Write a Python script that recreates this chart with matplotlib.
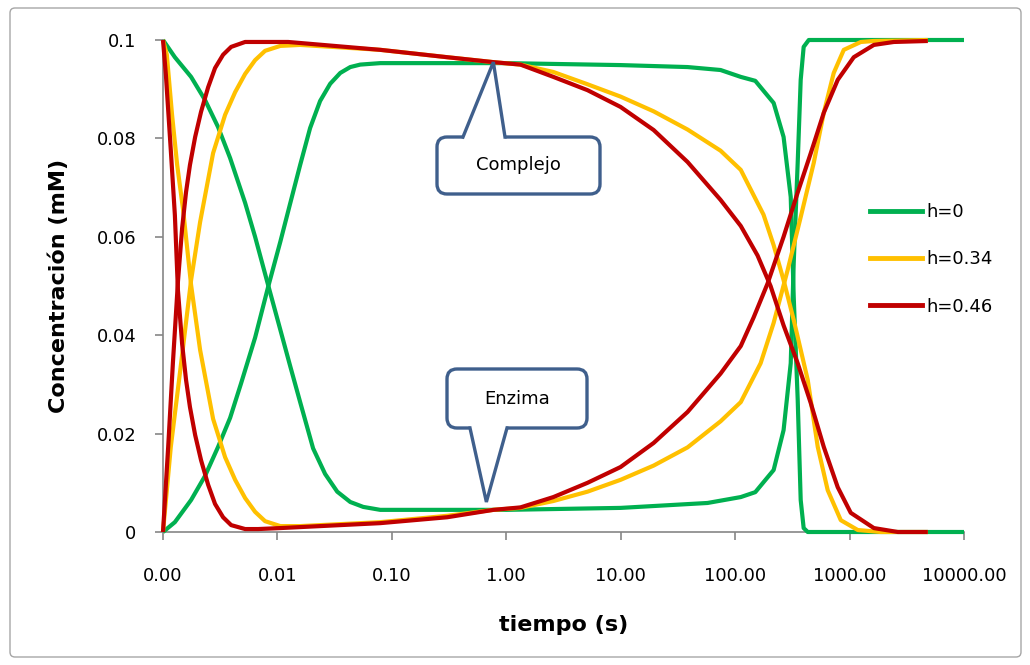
import matplotlib
matplotlib.use("Agg")
import matplotlib.pyplot as plt
from matplotlib.patches import FancyBboxPatch, Polygon
from matplotlib.lines import Line2D

# ---------------- data: concentration (mM) vs time (s) ----------------
# h = 0
t_comp_h0 = [0.001, 0.00127, 0.00176, 0.00233, 0.00303, 0.00386, 0.00481, 0.00638,
             0.00829, 0.0106, 0.0129, 0.0158, 0.0193, 0.0236, 0.0289, 0.0354, 0.0433,
             0.0529, 0.0792, 1.0, 10.0, 38.4, 74.6, 112, 150, 217, 265, 306, 325,
             352, 374, 397, 431, 10000]
comp_h0 = [0.0, 0.0020, 0.0065, 0.0114, 0.0173, 0.0232, 0.0302, 0.0395,
           0.0498, 0.0590, 0.0667, 0.0746, 0.0821, 0.0876, 0.0911, 0.0933, 0.0945,
           0.0950, 0.0953, 0.0953, 0.0949, 0.0945, 0.0939, 0.0925, 0.0917, 0.0872,
           0.0803, 0.0681, 0.0478, 0.0270, 0.0065, 0.0008, 0.0, 0.0]
t_enz_h0 = [0.001, 0.00127, 0.00176, 0.00233, 0.00303, 0.00386, 0.00522, 0.00638,
            0.00829, 0.0106, 0.0129, 0.0158, 0.0205, 0.0261, 0.0333, 0.0433, 0.0562,
            0.0792, 1.0, 10.0, 57.4, 112, 150, 217, 265, 306, 325, 352, 374, 397,
            440, 10000]
enz_h0 = [0.1, 0.0965, 0.0925, 0.0878, 0.0823, 0.0760, 0.0669, 0.0600,
          0.0502, 0.0411, 0.0338, 0.0264, 0.0170, 0.0118, 0.0082, 0.0061, 0.0051,
          0.0045, 0.0045, 0.0049, 0.0059, 0.0071, 0.0081, 0.0126, 0.0207, 0.0343,
          0.0547, 0.0750, 0.0919, 0.0986, 0.1, 0.1]

# h = 0.34
t_comp_h34 = [0.001, 0.00117, 0.00144, 0.00176, 0.00211, 0.00274, 0.00349, 0.00427,
              0.00522, 0.00638, 0.0078, 0.0106, 0.0158, 0.0792, 0.305, 0.771, 1.33,
              2.58, 5.13, 9.96, 19.4, 38.4, 74.6, 112, 177, 217, 265, 325, 431, 527,
              644, 838, 1180, 1876, 4830]
comp_h34 = [0.0, 0.0173, 0.0343, 0.0512, 0.0630, 0.0770, 0.0848, 0.0894,
            0.0931, 0.0959, 0.0978, 0.0988, 0.0990, 0.0980, 0.0965, 0.0955, 0.0950,
            0.0935, 0.0910, 0.0885, 0.0855, 0.0818, 0.0775, 0.0736, 0.0645, 0.0583,
            0.0512, 0.0431, 0.0309, 0.0173, 0.0085, 0.0024, 0.0004, 0.0, 0.0]
t_enz_h34 = [0.001, 0.00108, 0.0012, 0.00133, 0.0015, 0.00176, 0.00211, 0.00274,
             0.00349, 0.00427, 0.00522, 0.00638, 0.0078, 0.0106, 0.0158, 0.0792,
             0.305, 0.771, 1.33, 2.58, 5.13, 9.96, 19.4, 38.4, 74.6, 112, 167, 217,
             288, 374, 486, 595, 727, 890, 1254, 1630, 4830]
enz_h34 = [0.1, 0.0970, 0.0848, 0.0746, 0.0654, 0.0502, 0.0370, 0.0230,
           0.0152, 0.0106, 0.0069, 0.0041, 0.0022, 0.0012, 0.0012, 0.0020,
           0.0033, 0.0045, 0.0049, 0.0063, 0.0082, 0.0106, 0.0135, 0.0172, 0.0225,
           0.0264, 0.0343, 0.0425, 0.0533, 0.0640, 0.0750, 0.0852, 0.0933, 0.0980,
           0.0996, 0.0998, 0.1]

# h = 0.46
t_comp_h46 = [0.001, 0.00111, 0.00122, 0.00135, 0.00147, 0.00159, 0.00172, 0.00191,
              0.00215, 0.00248, 0.00285, 0.00335, 0.00394, 0.00522, 0.0124, 0.0792,
              0.305, 0.771, 1.33, 2.58, 5.13, 9.96, 19.4, 38.4, 74.6, 112, 157, 204,
              265, 352, 458, 595, 788, 1024, 1630, 2642, 4830]
comp_h46 = [0.0, 0.0173, 0.0343, 0.0508, 0.0618, 0.0691, 0.0746, 0.0803,
            0.0854, 0.0904, 0.0943, 0.0970, 0.0986, 0.0996, 0.0996, 0.0980,
            0.0965, 0.0955, 0.0950, 0.0925, 0.0898, 0.0864, 0.0817, 0.0752, 0.0675,
            0.0622, 0.0562, 0.0500, 0.0420, 0.0343, 0.0262, 0.0173, 0.0091, 0.0039,
            0.0008, 0.0, 0.0]
t_enz_h46 = [0.001, 0.00106, 0.00117, 0.00127, 0.00135, 0.00147, 0.00159, 0.00172,
             0.00191, 0.00215, 0.00248, 0.00285, 0.00335, 0.00394, 0.00522, 0.00678,
             0.0106, 0.0792, 0.305, 0.771, 1.33, 2.58, 5.13, 9.96, 19.4, 38.4, 74.6,
             112, 145, 192, 265, 352, 458, 595, 788, 1088, 1630, 2436, 4830]
enz_h46 = [0.1, 0.0929, 0.0776, 0.0644, 0.0492, 0.0382, 0.0309, 0.0254,
           0.0197, 0.0146, 0.0096, 0.0057, 0.0030, 0.0014, 0.0006, 0.0006,
           0.0008, 0.0018, 0.0030, 0.0045, 0.0050, 0.0071, 0.0100, 0.0132, 0.0181,
           0.0244, 0.0322, 0.0378, 0.0436, 0.0505, 0.0600, 0.0690, 0.0770, 0.0852,
           0.0919, 0.0965, 0.0990, 0.0996, 0.0998]

series_labels = ["h=0", "h=0.34", "h=0.46"]
series_colors = ["#00B050", "#FFC000", "#C00000"]

x_ticks = [0.001, 0.01, 0.1, 1, 10, 100, 1000, 10000]
x_ticklabels = ["0.00", "0.01", "0.10", "1.00", "10.00", "100.00", "1000.00", "10000.00"]
y_ticks = [0, 0.02, 0.04, 0.06, 0.08, 0.1]
y_ticklabels = ["0", "0.02", "0.04", "0.06", "0.08", "0.1"]

# ---------------- figure ----------------
W, H = 1030, 665
plt.rcParams["font.family"] = ["DejaVu Sans"]
fig = plt.figure(figsize=(W / 100, H / 100), dpi=100)
fig.patch.set_facecolor("white")

# outer chart-area border
fig.patches.append(FancyBboxPatch((0.10, 0.08), 10.11, 6.49,
                                  boxstyle="round,pad=0,rounding_size=0.05",
                                  transform=fig.dpi_scale_trans, facecolor="none",
                                  edgecolor="#a6a6a6", linewidth=1.0))


def px_axes(x0, y0, x1, y1):
    return [x0 / W, 1 - y1 / H, (x1 - x0) / W, (y1 - y0) / H]


ax = fig.add_axes(px_axes(163, 40, 964, 532))
ax.set_xscale("log")
ax.set_xlim(0.001, 10000)
ax.set_ylim(0, 0.1)

data = [
    (t_comp_h0, comp_h0, t_enz_h0, enz_h0),
    (t_comp_h34, comp_h34, t_enz_h34, enz_h34),
    (t_comp_h46, comp_h46, t_enz_h46, enz_h46),
]
handles = []
for (tc, c, te, e), col in zip(data, series_colors):
    for tt, vv in ((tc, c), (te, e)):
        ax.plot(tt, vv, color=col, lw=3.0, solid_joinstyle="round",
                solid_capstyle="butt", clip_on=False, zorder=3)
    handles.append(Line2D([], [], color=col, lw=3.5))

# axes styling
for side in ("top", "right"):
    ax.spines[side].set_visible(False)
for side in ("left", "bottom"):
    ax.spines[side].set_color("#868686")
    ax.spines[side].set_linewidth(1.2)
ax.set_xticks(x_ticks)
ax.set_xticklabels(x_ticklabels)
ax.xaxis.set_minor_locator(matplotlib.ticker.NullLocator())
ax.set_yticks(y_ticks)
ax.set_yticklabels(y_ticklabels)
ax.tick_params(axis="both", direction="out", length=6, width=1.2, color="#868686",
               labelsize=13, labelcolor="black")
ax.tick_params(axis="x", pad=19)
ax.tick_params(axis="y", pad=13)

ax.set_xlabel("tiempo (s)", fontsize=16, fontweight="bold", labelpad=22)
ax.set_ylabel("Concentración (mM)", fontsize=16, fontweight="bold", labelpad=20)

leg = ax.legend(handles, series_labels, loc="upper left",
                bbox_to_anchor=(870 / W, 1 - 203 / H), bbox_transform=fig.transFigure,
                frameon=False, fontsize=13, handlelength=2.9, handletextpad=0.2,
                labelspacing=1.62, borderpad=0, borderaxespad=0)

# ---------------- callouts ----------------
edge_col = "#3F5F8C"


def to_in(px, py):
    return (px / 100.0, (H - py) / 100.0)


def callout(text, box, base, tip_data):
    x0, y0, x1, y1 = box
    bx0, by0 = to_in(x0, y1)
    bw, bh = (x1 - x0) / 100.0, (y1 - y0) / 100.0
    fig.patches.append(FancyBboxPatch((bx0, by0), bw, bh,
                                      boxstyle="round,pad=0,rounding_size=0.10",
                                      transform=fig.dpi_scale_trans, facecolor="white",
                                      edgecolor=edge_col, linewidth=2.4, zorder=5))
    tip = fig.dpi_scale_trans.inverted().transform(ax.transData.transform(tip_data))
    (bl_x, bl_y), (br_x, br_y) = to_in(*base[0]), to_in(*base[1])
    inward = -0.05 if tip[1] > bl_y else 0.05
    fig.patches.append(Polygon([(bl_x, bl_y + inward), (bl_x, bl_y), tuple(tip),
                                (br_x, br_y), (br_x, br_y + inward)], closed=True,
                               transform=fig.dpi_scale_trans, facecolor="white",
                               edgecolor="none", zorder=6))
    fig.lines.append(Line2D([bl_x, tip[0], br_x], [bl_y, tip[1], br_y],
                            transform=fig.dpi_scale_trans, color=edge_col, lw=2.4,
                            solid_joinstyle="miter", zorder=7))
    cx, cy = to_in((x0 + x1) / 2, (y0 + y1) / 2)
    fig.text(cx / (W / 100), cy / (H / 100), text, ha="center", va="center",
             fontsize=13, color="black", zorder=8)


callout("Complejo", (437, 137, 600, 194), [(463, 137), (505, 137)], (0.771, 0.0955))
callout("Enzima", (447, 369, 587, 428), [(470, 428), (507, 428)], (0.670, 0.0061))

fig.savefig("out.png", dpi=100, facecolor="white")
